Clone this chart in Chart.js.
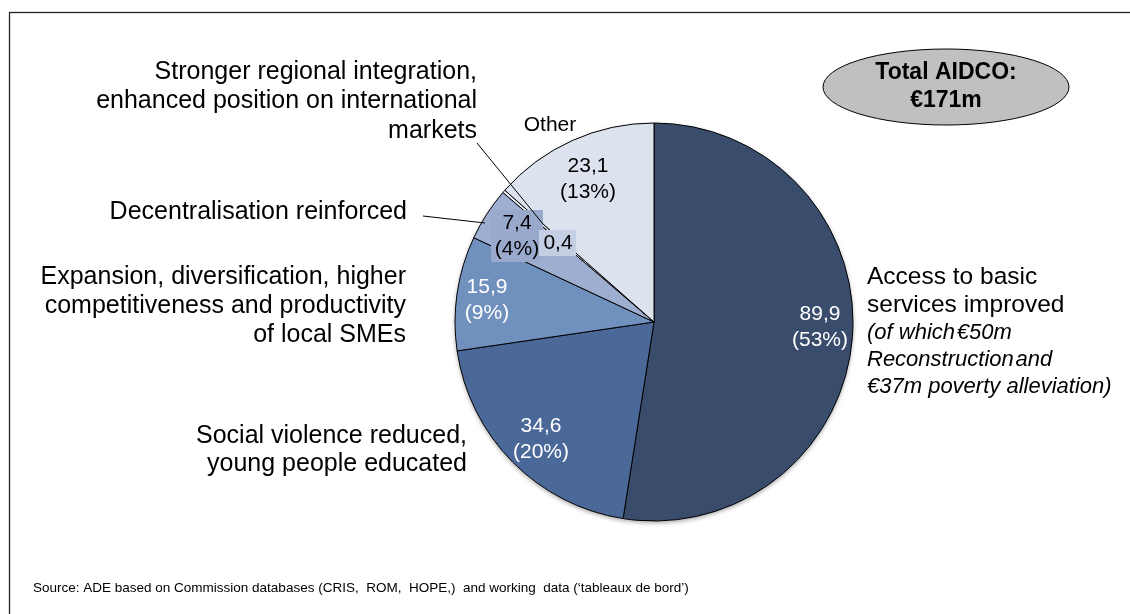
<!DOCTYPE html>
<html>
<head>
<meta charset="utf-8">
<title>AIDCO commitments by objective</title>
<script src="https://cdn.jsdelivr.net/npm/chart.js@4/dist/chart.umd.min.js"></script>
<style>
  html, body { margin: 0; padding: 0; background: #fff; }
  #wrap { position: relative; width: 1130px; height: 614px; }
  canvas { display: block; }
</style>
</head>
<body>
<div id="wrap"><canvas id="pie" width="1130" height="614"></canvas></div>
<script>
// Objectives, in clockwise order from 12 o'clock
const categories = [
  'Access to basic services improved',
  'Social violence reduced, young people educated',
  'Expansion, diversification, higher competitiveness and productivity of local SMEs',
  'Decentralisation reinforced',
  'Stronger regional integration, enhanced position on international markets',
  'Other'
];
// Amounts in € million
const amounts = [89.9, 34.6, 15.9, 7.4, 0.4, 23.1];
// Shares as printed on the slices
const shareLabels = ['53%', '20%', '9%', '4%', null, '13%'];
const totalLabel = ['Total AIDCO:', '€171m'];
const sourceNote = 'Source: ADE based on Commission databases (CRIS,  ROM,  HOPE,)  and working  data (\u2018tableaux de bord\u2019)';

const sliceColors = ['#3a4c6c', '#4a6898', '#7090be', '#9daed0', '#eef1f7', '#dde3ee'];
const FONT = '"Liberation Sans", Arial, sans-serif';

// Label layout: offsets relative to the pie centre
const valueLayout = [
  { dx: 166, dy: 5,   color: '#ffffff' },
  { dx: -113, dy: 117, color: '#ffffff' },
  { dx: -167, dy: -22, color: '#ffffff' },
  { dx: -137, dy: -86, color: '#000000', box: '#98a9cc' },
  { dx: -96,  dy: -79, color: '#000000', box: '#c5cfe4' },
  { dx: -66,  dy: -143, color: '#000000' }
];

const fmt = v => String(v).replace('.', ',');

function drawLines(ctx, lines, x, y, lh, align, font, color) {
  ctx.save();
  ctx.font = font;
  ctx.fillStyle = color;
  ctx.textAlign = align;
  ctx.textBaseline = 'middle';
  lines.forEach((t, i) => ctx.fillText(t, x, y + i * lh));
  ctx.restore();
}

function line(ctx, x1, y1, x2, y2) {
  ctx.save();
  ctx.strokeStyle = '#000';
  ctx.lineWidth = 1;
  ctx.beginPath();
  ctx.moveTo(x1, y1);
  ctx.lineTo(x2, y2);
  ctx.stroke();
  ctx.restore();
}

const decor = {
  id: 'decor',
  beforeDraw(chart) {
    const ctx = chart.ctx;
    ctx.save();
    ctx.fillStyle = '#fff';
    ctx.fillRect(0, 0, chart.width, chart.height);
    ctx.strokeStyle = '#222';
    ctx.lineWidth = 1.3;
    ctx.strokeRect(9.5, 12.5, chart.width + 20, chart.height + 20);
    ctx.restore();
  },
  beforeDatasetsDraw(chart) {
    // soft drop shadow under the pie
    const ctx = chart.ctx;
    ctx.save();
    ctx.shadowColor = 'rgba(0,0,0,0.35)';
    ctx.shadowBlur = 4;
    ctx.shadowOffsetY = 2;
    const a = chart.getDatasetMeta(0).data[0];
    ctx.fillStyle = '#fff';
    ctx.beginPath();
    ctx.arc(a.x, a.y, a.outerRadius, 0, Math.PI * 2);
    ctx.fill();
    ctx.restore();
  },
  afterDatasetsDraw(chart) {
    const ctx = chart.ctx;
    const arcs = chart.getDatasetMeta(0).data;
    const cx = arcs[0].x, cy = arcs[0].y;
    const valFont = '21px ' + FONT;
    const lh = 26;

    // value labels on the slices
    amounts.forEach((v, i) => {
      const L = valueLayout[i];
      const lines = [fmt(v)];
      if (shareLabels[i]) lines.push('(' + shareLabels[i] + ')');
      const x = cx + L.dx;
      const y0 = cy + L.dy - (lines.length - 1) * lh / 2;
      if (L.box) {
        ctx.save();
        ctx.font = valFont;
        const w = Math.max(...lines.map(t => ctx.measureText(t).width)) + 8;
        const h = lines.length * lh;
        ctx.fillStyle = L.box;
        ctx.fillRect(Math.round(x - w / 2), Math.round(y0 - lh / 2), Math.round(w), h);
        ctx.restore();
      }
      drawLines(ctx, lines, x, y0, lh, 'center', valFont, L.color);
    });

    // category labels
    const big = '25px ' + FONT;
    drawLines(ctx, ['Stronger regional integration,', 'enhanced position on international', 'markets'],
      477, 72, 29.5, 'right', big, '#000');
    drawLines(ctx, ['Decentralisation reinforced'], 407, 212, 29, 'right', big, '#000');
    drawLines(ctx, ['Expansion, diversification, higher', 'competitiveness and productivity', 'of local SMEs'],
      406, 277, 29, 'right', big, '#000');
    drawLines(ctx, ['Social violence reduced,', 'young people educated'], 467, 436, 28, 'right', big, '#000');
    drawLines(ctx, ['Access to basic', 'services improved'], 867, 277, 28, 'left', '24.5px ' + FONT, '#000');
    drawLines(ctx, ['(of which\u200a€50m', 'Reconstruction\u200aand', '€37m poverty alleviation)'],
      867, 333, 27, 'left', 'italic 22px ' + FONT, '#000');
    drawLines(ctx, [categories[5]], 550, 125, 0, 'center', '21px ' + FONT, '#000');

    // leader lines
    line(ctx, 477, 143, 543, 224);
    line(ctx, 423, 216, 485, 223);

    // total bubble
    ctx.save();
    ctx.fillStyle = '#c0c0c0';
    ctx.strokeStyle = '#000';
    ctx.lineWidth = 1;
    ctx.beginPath();
    ctx.ellipse(946, 87, 123, 38, 0, 0, Math.PI * 2);
    ctx.fill();
    ctx.stroke();
    ctx.restore();
    drawLines(ctx, totalLabel, 946, 73, 28, 'center', 'bold 23px ' + FONT, '#000');

    // source note
    drawLines(ctx, [sourceNote], 33, 588, 0, 'left', '13.5px ' + FONT, '#000');
  }
};

new Chart(document.getElementById('pie'), {
  type: 'pie',
  data: {
    labels: categories,
    datasets: [{
      data: amounts,
      backgroundColor: sliceColors,
      borderColor: '#000',
      borderWidth: 1
    }]
  },
  options: {
    responsive: false,
    animation: false,
    radius: 199,
    layout: { padding: { left: 454, right: 276, top: 122, bottom: 92 } },
    plugins: { legend: { display: false }, tooltip: { enabled: false } }
  },
  plugins: [decor]
});
</script>
</body>
</html>
